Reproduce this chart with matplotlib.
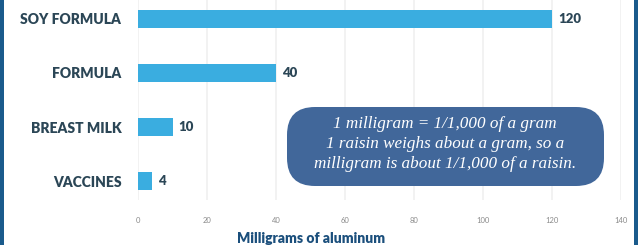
import matplotlib
matplotlib.use('agg')
import matplotlib.pyplot as plt
from matplotlib.patches import FancyBboxPatch, Rectangle

categories = ['SOY FORMULA', 'FORMULA', 'BREAST MILK', 'VACCINES']
values = [120, 40, 10, 4]
ticks = [0, 20, 40, 60, 80, 100, 120, 140]
xlabel = 'Milligrams of aluminum'
note = ('1 milligram = 1/1,000 of a gram\n'
        '1 raisin weighs about a gram, so a\n'
        'milligram is about 1/1,000 of a raisin.')

BAR = '#3aade0'
DARK = '#2b4656'
NAVY = '#1b4f7c'
BOX = '#41679a'

fig = plt.figure(figsize=(6.38, 2.45), dpi=100)
ax = fig.add_axes([138 / 638, 45 / 245, 483 / 638, 200 / 245])

pos = list(range(len(categories)))
ax.barh(pos, values, height=0.34, color=BAR, zorder=2)
for p, v in zip(pos, values):
    ax.text(v + 1.8, p, str(v), va='center', ha='left', fontsize=9.5,
            fontweight='heavy', color=DARK, family='Lato')

ax.set_xlim(0, 140)
ax.set_ylim(len(categories) - 1 + 0.35, -0.35)
ax.set_yticks(pos)
ax.set_yticklabels(categories, fontsize=10, fontweight='heavy', color=DARK,
                   family='Lato')
ax.set_xticks(ticks)
ax.set_xticklabels([str(t) for t in ticks], fontsize=5.5, color='#8a8a8a',
                   family='Lato')
ax.tick_params(axis='y', length=0, pad=12)
ax.tick_params(axis='x', length=0, pad=12)
ax.grid(axis='x', color='#f0f0f0', linewidth=1.2, zorder=0)
for s in ax.spines.values():
    s.set_visible(False)

fig.text(311 / 638, 7 / 245, xlabel, ha='center', va='center',
         fontsize=10, fontweight='heavy', color=NAVY, family='Lato')

# overlay in pixel units for the note box and frame edges
ov = fig.add_axes([0, 0, 1, 1], zorder=5)
ov.set_xlim(0, 638)
ov.set_ylim(245, 0)
ov.axis('off')
ov.add_patch(FancyBboxPatch((287, 107), 317, 79,
                            boxstyle='round,pad=0,rounding_size=28',
                            facecolor=BOX, edgecolor='none'))
ov.text(445, 144, note, ha='center', va='center', color='white',
        fontsize=12.3, style='italic', family='Liberation Serif',
        linespacing=1.3)
ov.add_patch(Rectangle((0, 0), 4, 245, facecolor='#1a5b8c',
                       edgecolor='none'))
ov.add_patch(Rectangle((634, 0), 4, 245, facecolor='#1a5b8c',
                       edgecolor='none'))

fig.savefig('out.png', dpi=100)
